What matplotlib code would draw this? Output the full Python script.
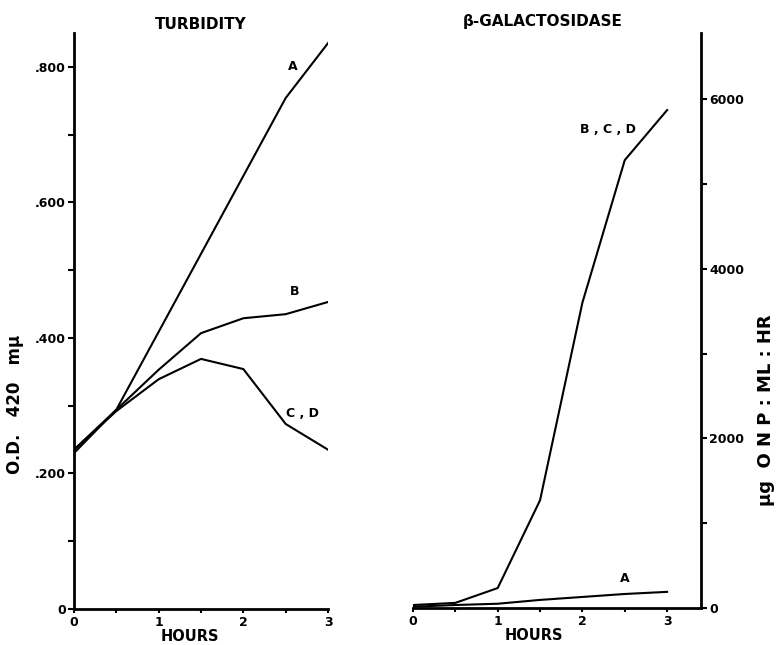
import matplotlib.pyplot as plt
from matplotlib.ticker import MultipleLocator, FixedLocator

plt.rcParams['font.family'] = ['DejaVu Sans']
plt.rcParams['font.weight'] = 'bold'
plt.rcParams['axes.titleweight'] = 'bold'
plt.rcParams['axes.labelweight'] = 'bold'

# Daten
hours = [0, 0.5, 1, 1.5, 2, 2.5, 3]

turb_a = [0.230, 0.294, 0.409, 0.524, 0.639, 0.754, 0.835]
turb_b = [0.235, 0.294, 0.353, 0.407, 0.429, 0.435, 0.453]
turb_cd = [0.235, 0.292, 0.339, 0.369, 0.354, 0.273, 0.235]

gal_bcd = [35, 60, 235, 1270, 3600, 5280, 5870]
gal_a = [15, 35, 50, 95, 130, 165, 190]

fig = plt.figure(figsize=(7.77, 6.45), dpi=100)

# linkes Diagramm: Trübung
ax1 = fig.add_axes([0.0952, 0.0558, 0.3270, 0.8932])
for y in (turb_a, turb_b, turb_cd):
    ax1.plot(hours, y, color='black', lw=1.5)
ax1.set_xlim(0, 3)
ax1.set_ylim(0, 0.85)
ax1.spines['top'].set_visible(False)
ax1.spines['right'].set_visible(False)
ax1.spines['left'].set_linewidth(2)
ax1.spines['bottom'].set_linewidth(2)
ax1.xaxis.set_major_locator(MultipleLocator(1))
ax1.xaxis.set_minor_locator(MultipleLocator(0.5))
ax1.set_yticks([0, 0.2, 0.4, 0.6, 0.8])
ax1.set_yticklabels(['0', '.200', '.400', '.600', '.800'])
ax1.yaxis.set_minor_locator(FixedLocator([0.1, 0.3, 0.5, 0.7]))
ax1.tick_params(which='both', direction='out', width=1.5, labelsize=9, pad=2)
ax1.tick_params(axis='x', which='both', length=3)
ax1.tick_params(axis='y', which='both', length=4)
ax1.text(2.58, 0.80, 'A', fontsize=9, ha='center', va='center')
ax1.text(2.6, 0.468, 'B', fontsize=9, ha='center', va='center')
ax1.text(2.7, 0.288, 'C , D', fontsize=9, ha='center', va='center')
ax1.set_title('TURBIDITY', fontsize=11, pad=3)
ax1.set_ylabel('O.D.   420   mμ', fontsize=12)
ax1.yaxis.set_label_coords(-0.197, 0.355)
ax1.set_xlabel('HOURS', fontsize=10.5)
ax1.xaxis.set_label_coords(0.455, -0.034)

# rechtes Diagramm: beta-Galaktosidase
ax2 = fig.add_axes([0.5315, 0.0574, 0.3707, 0.8916])
ax2.plot(hours, gal_bcd, color='black', lw=1.5)
ax2.plot(hours, gal_a, color='black', lw=1.5)
ax2.set_xlim(0, 3.4)
ax2.set_ylim(0, 6780)
ax2.spines['top'].set_visible(False)
ax2.spines['left'].set_visible(False)
ax2.spines['right'].set_linewidth(2)
ax2.spines['bottom'].set_linewidth(2)
ax2.yaxis.tick_right()
ax2.yaxis.set_label_position('right')
ax2.set_xticks([0, 1, 2, 3])
ax2.xaxis.set_minor_locator(FixedLocator([0.5, 1.5, 2.5]))
ax2.set_yticks([0, 2000, 4000, 6000])
ax2.yaxis.set_minor_locator(FixedLocator([1000, 3000, 5000]))
ax2.tick_params(which='both', direction='out', width=1.5, labelsize=9, pad=2)
ax2.tick_params(axis='x', which='both', length=3)
ax2.tick_params(axis='y', which='both', length=4)
ax2.text(2.5, 350, 'A', fontsize=9, ha='center', va='center')
ax2.text(2.3, 5640, 'B , C , D', fontsize=9, ha='center', va='center')
ax2.text(0.45, 1.006, 'β-GALACTOSIDASE', fontsize=11, ha='center',
         va='bottom', transform=ax2.transAxes)
ax2.set_ylabel('μg  O N P : ML : HR', fontsize=13)
ax2.yaxis.set_label_coords(1.195, 0.344)
ax2.set_xlabel('HOURS', fontsize=10.5)
ax2.xaxis.set_label_coords(0.42, -0.034)

fig.savefig('out.png', dpi=100)
